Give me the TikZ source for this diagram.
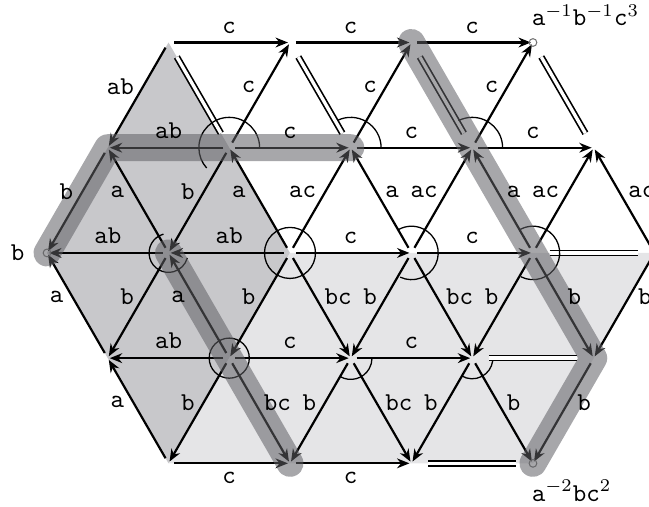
\documentclass[tikz,border=0pt]{standalone}
\usetikzlibrary{arrows.meta}
\pgfdeclarelayer{shadelayer}
\pgfdeclarelayer{edgelayer}
\pgfdeclarelayer{bandlayer}
\pgfsetlayers{shadelayer,edgelayer,bandlayer,main}
\definecolor{darkshade}{RGB}{200,200,203}
\definecolor{lightshade}{RGB}{229,229,231}
\definecolor{bandgray}{RGB}{95,95,100}
\tikzstyle{arrowedge}=[draw=black, line width=0.85pt, shorten <=2.3pt, shorten >=0.8pt, -{Stealth[length=4.8pt,width=3.8pt]}]
\tikzstyle{doubleedge}=[draw=black, line width=0.65pt, double=white, double distance=1.3pt, shorten <=6.5pt, shorten >=6.5pt]
\tikzstyle{anglemark}=[draw=black, line width=0.5pt]
\tikzstyle{band}=[draw=bandgray, draw opacity=0.55, line width=10.5pt, line cap=round, line join=round]
\tikzstyle{ringpt}=[draw=black!55, line width=0.4pt]
\tikzstyle{lbl}=[font=\ttfamily]
\tikzstyle{dlbl}=[font=\ttfamily, pos=0.42]

\begin{document}
\begin{tikzpicture}[x=1.66cm, y=1.66cm]
	\useasboundingbox (-0.387, -2.09) rectangle (4.955, 2.082);
	% lattice points
	\coordinate (A0) at (1, 1.732);
	\coordinate (A1) at (2, 1.732);
	\coordinate (A2) at (3, 1.732);
	\coordinate (A3) at (4, 1.732);
	\coordinate (B0) at (0.5, 0.866);
	\coordinate (B1) at (1.5, 0.866);
	\coordinate (B2) at (2.5, 0.866);
	\coordinate (B3) at (3.5, 0.866);
	\coordinate (B4) at (4.5, 0.866);
	\coordinate (C0) at (0, 0);
	\coordinate (C1) at (1, 0);
	\coordinate (C2) at (2, 0);
	\coordinate (C3) at (3, 0);
	\coordinate (C4) at (4, 0);
	\coordinate (C5) at (5, 0);
	\coordinate (D0) at (0.5, -0.866);
	\coordinate (D1) at (1.5, -0.866);
	\coordinate (D2) at (2.5, -0.866);
	\coordinate (D3) at (3.5, -0.866);
	\coordinate (D4) at (4.5, -0.866);
	\coordinate (E0) at (1, -1.732);
	\coordinate (E1) at (2, -1.732);
	\coordinate (E2) at (3, -1.732);
	\coordinate (E3) at (4, -1.732);
	\begin{pgfonlayer}{shadelayer}
		\fill [darkshade] (A0) -- (B1) -- (C2) -- (D1) -- (E0) -- (D0) -- (C0) -- (B0) -- cycle;
		\fill [lightshade] (C2) -- (C5) -- (D4) -- (E3) -- (E0) -- (D1) -- cycle;
	\end{pgfonlayer}
	\begin{pgfonlayer}{edgelayer}
		\draw [style=arrowedge] (A0) to (A1);
		\draw [style=arrowedge] (A1) to (A2);
		\draw [style=arrowedge] (A2) to (A3);
		\draw [style=arrowedge] (A0) to (B0);
		\draw [style=doubleedge] (A0) to (B1);
		\draw [style=arrowedge] (B1) to (A1);
		\draw [style=doubleedge] (A1) to (B2);
		\draw [style=arrowedge] (B2) to (A2);
		\draw [style=doubleedge] (A2) to (B3);
		\draw [style=arrowedge] (B3) to (A3);
		\draw [style=doubleedge] (A3) to (B4);
		\draw [style=arrowedge] (B1) to (B0);
		\draw [style=arrowedge] (B1) to (B2);
		\draw [style=arrowedge] (B2) to (B3);
		\draw [style=arrowedge] (B3) to (B4);
		\draw [style=arrowedge] (B0) to (C0);
		\draw [style=arrowedge] (C1) to (B0);
		\draw [style=arrowedge] (B1) to (C1);
		\draw [style=arrowedge] (C2) to (B1);
		\draw [style=arrowedge] (C2) to (B2);
		\draw [style=arrowedge] (C3) to (B2);
		\draw [style=arrowedge] (C3) to (B3);
		\draw [style=arrowedge] (C4) to (B3);
		\draw [style=arrowedge] (C4) to (B4);
		\draw [style=arrowedge] (C5) to (B4);
		\draw [style=arrowedge] (C1) to (C0);
		\draw [style=arrowedge] (C2) to (C1);
		\draw [style=arrowedge] (C2) to (C3);
		\draw [style=arrowedge] (C3) to (C4);
		\draw [style=doubleedge] (C4) to (C5);
		\draw [style=arrowedge] (D0) to (C0);
		\draw [style=arrowedge] (C1) to (D0);
		\draw [style=arrowedge] (D1) to (C1);
		\draw [style=arrowedge] (C2) to (D1);
		\draw [style=arrowedge] (C2) to (D2);
		\draw [style=arrowedge] (C3) to (D2);
		\draw [style=arrowedge] (C3) to (D3);
		\draw [style=arrowedge] (C4) to (D3);
		\draw [style=arrowedge] (C4) to (D4);
		\draw [style=arrowedge] (C5) to (D4);
		\draw [style=arrowedge] (D1) to (D0);
		\draw [style=arrowedge] (D1) to (D2);
		\draw [style=arrowedge] (D2) to (D3);
		\draw [style=doubleedge] (D3) to (D4);
		\draw [style=arrowedge] (E0) to (D0);
		\draw [style=arrowedge] (D1) to (E0);
		\draw [style=arrowedge] (D1) to (E1);
		\draw [style=arrowedge] (D2) to (E1);
		\draw [style=arrowedge] (D2) to (E2);
		\draw [style=arrowedge] (D3) to (E2);
		\draw [style=arrowedge] (D3) to (E3);
		\draw [style=arrowedge] (D4) to (E3);
		\draw [style=arrowedge] (E0) to (E1);
		\draw [style=arrowedge] (E1) to (E2);
		\draw [style=doubleedge] (E2) to (E3);
		% angle marks
		\draw [style=anglemark] ([shift={(0:0.25)}]B1) arc [start angle=0, end angle=222, radius=0.25];
		\draw [style=anglemark] ([shift={(0:0.25)}]B2) arc [start angle=0, end angle=115, radius=0.25];
		\draw [style=anglemark] ([shift={(0:0.25)}]B3) arc [start angle=0, end angle=117, radius=0.25];
		\draw [style=anglemark] ([shift={(105:0.16)}]C1) arc [start angle=105, end angle=345, radius=0.16];
		\draw [style=anglemark] (C2) circle [radius=0.21];
		\draw [style=anglemark] ([shift={(-115:0.22)}]C3) arc [start angle=-115, end angle=118, radius=0.22];
		\draw [style=anglemark] ([shift={(-117:0.22)}]C4) arc [start angle=-117, end angle=118, radius=0.22];
		\draw [style=anglemark] (D1) circle [radius=0.165];
		\draw [style=anglemark] ([shift={(240:0.175)}]D2) arc [start angle=240, end angle=360, radius=0.175];
		\draw [style=anglemark] ([shift={(238:0.17)}]D3) arc [start angle=238, end angle=352, radius=0.17];
		\draw [style=ringpt] (C0) circle [radius=1.5pt];
		\draw [style=ringpt] (A3) circle [radius=1.5pt];
		\draw [style=ringpt] (E3) circle [radius=1.5pt];
	\end{pgfonlayer}
	\begin{pgfonlayer}{bandlayer}
		\draw [style=band] (B2) -- (B1) -- (B0) -- (C0);
		\draw [style=band] (A2) -- (B3) -- (C4) -- (D4) -- (E3);
		\draw [style=band] (C1) -- (D1) -- (E1);
	\end{pgfonlayer}
	% labels, diagonals always written from the upper end
	\path (A0) to node [style=lbl, above] {c} (A1);
	\path (A1) to node [style=lbl, above] {c} (A2);
	\path (A2) to node [style=lbl, above] {c} (A3);
	\path (A0) to node [style=dlbl, left] {ab} (B0);
	\path (A1) to node [style=dlbl, left] {c} (B1);
	\path (A2) to node [style=dlbl, left] {c} (B2);
	\path (A3) to node [style=dlbl, left] {c} (B3);
	\path (B1) to node [style=lbl, above] {ab} (B0);
	\path (B1) to node [style=lbl, above] {c} (B2);
	\path (B2) to node [style=lbl, above] {c} (B3);
	\path (B3) to node [style=lbl, above] {c} (B4);
	\path (B0) to node [style=dlbl, left] {b} (C0);
	\path (B0) to node [style=dlbl, left] {a} (C1);
	\path (B1) to node [style=dlbl, left] {b} (C1);
	\path (B1) to node [style=dlbl, left] {a} (C2);
	\path (B2) to node [style=dlbl, left] {ac} (C2);
	\path (B2) to node [style=dlbl, right] {a} (C3);
	\path (B3) to node [style=dlbl, left] {ac} (C3);
	\path (B3) to node [style=dlbl, right] {a} (C4);
	\path (B4) to node [style=dlbl, left] {ac} (C4);
	\path (B4) to node [style=dlbl, right] {ac} (C5);
	\path (C1) to node [style=lbl, above] {ab} (C0);
	\path (C2) to node [style=lbl, above] {ab} (C1);
	\path (C2) to node [style=lbl, above] {c} (C3);
	\path (C3) to node [style=lbl, above] {c} (C4);
	\path (C0) to node [style=dlbl, left] {a} (D0);
	\path (C1) to node [style=dlbl, left] {b} (D0);
	\path (C1) to node [style=dlbl, left] {a} (D1);
	\path (C2) to node [style=dlbl, left] {b} (D1);
	\path (C2) to node [style=dlbl, right] {bc} (D2);
	\path (C3) to node [style=dlbl, left] {b} (D2);
	\path (C3) to node [style=dlbl, right] {bc} (D3);
	\path (C4) to node [style=dlbl, left] {b} (D3);
	\path (C4) to node [style=dlbl, right] {b} (D4);
	\path (C5) to node [style=dlbl, right] {b} (D4);
	\path (D1) to node [style=lbl, above] {ab} (D0);
	\path (D1) to node [style=lbl, above] {c} (D2);
	\path (D2) to node [style=lbl, above] {c} (D3);
	\path (D0) to node [style=dlbl, left] {a} (E0);
	\path (D1) to node [style=dlbl, left] {b} (E0);
	\path (D1) to node [style=dlbl, right] {bc} (E1);
	\path (D2) to node [style=dlbl, left] {b} (E1);
	\path (D2) to node [style=dlbl, right] {bc} (E2);
	\path (D3) to node [style=dlbl, left] {b} (E2);
	\path (D3) to node [style=dlbl, right] {b} (E3);
	\path (D4) to node [style=dlbl, right] {b} (E3);
	\path (E0) to node [style=lbl, below] {c} (E1);
	\path (E1) to node [style=lbl, below] {c} (E2);
	% end points
	\node [style=lbl, left=5.3pt] (startlbl) at (C0) {b};
	\node [above right, xshift=-4pt, yshift=3pt] (toplbl) at (A3) {$\mathtt{a}^{-1}\mathtt{b}^{-1}\mathtt{c}^{3}$};
	\node [below right, xshift=-4pt, yshift=-3pt] (botlbl) at (E3) {$\mathtt{a}^{-2}\mathtt{b}\mathtt{c}^{2}$};
\end{tikzpicture}
\end{document}
